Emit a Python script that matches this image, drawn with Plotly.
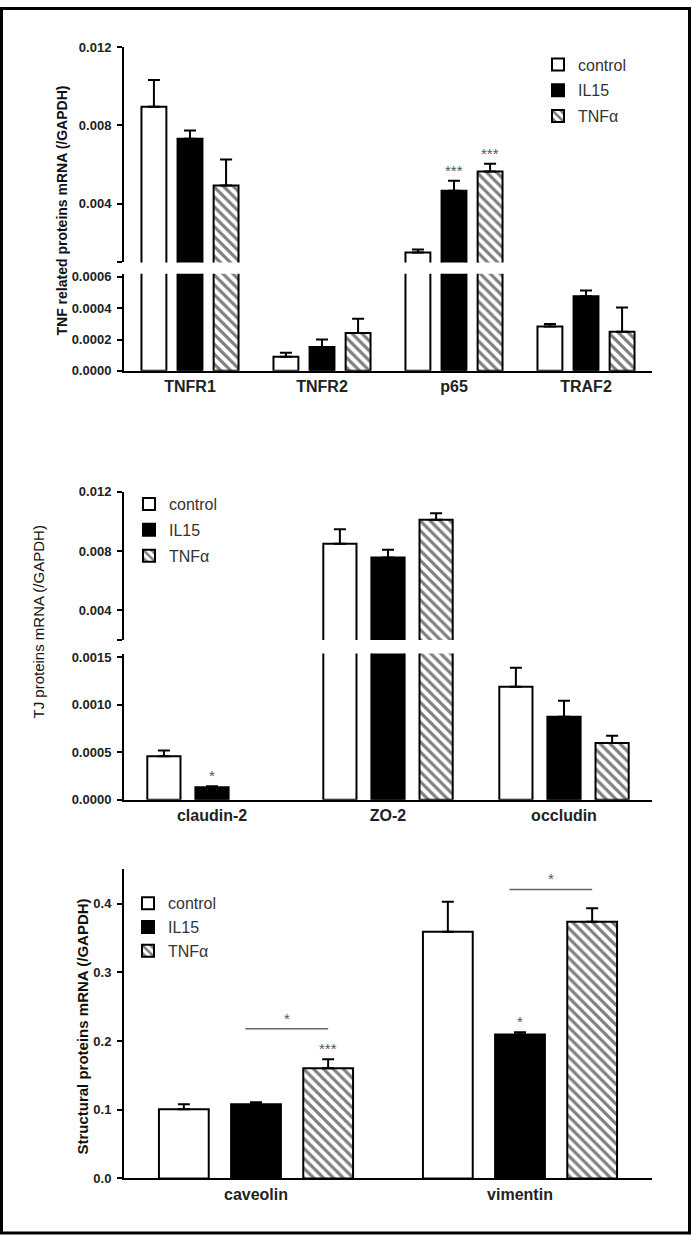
import plotly.graph_objects as go

W, H = 692, 1245
FONT = "Liberation Sans, Arial, Helvetica, sans-serif"

groups = ["control", "IL15", "TNFα"]

# ---------------- Panel 1: TNF related proteins ----------------
tnf_cats = ["TNFR1", "TNFR2", "p65", "TRAF2"]
tnf_control = [0.00895, 0.00009, 0.00151, 0.000284]
tnf_control_err = [0.00137, 0.000025, 0.00015, 0.000015]
tnf_il15 = [0.00732, 0.000153, 0.00466, 0.000477]
tnf_il15_err = [0.00042, 0.000047, 0.00051, 0.000036]
tnf_tnfa = [0.00493, 0.000242, 0.00564, 0.00025]
tnf_tnfa_err = [0.00133, 0.00009, 0.00040, 0.000154]
tnf_low_ticks = [0.0, 0.0002, 0.0004, 0.0006]
tnf_low_ticktext = ["0.0000", "0.0002", "0.0004", "0.0006"]
tnf_high_ticks = [0.001, 0.004, 0.008, 0.012]
tnf_high_ticktext = ["", "0.004", "0.008", "0.012"]
tnf_low_range = [0.0, 0.00062]
tnf_high_range = [0.001, 0.012]
tnf_stars = [("p65", "IL15", "***"), ("p65", "TNFα", "***")]

# ---------------- Panel 2: TJ proteins ----------------
tj_cats = ["claudin-2", "ZO-2", "occludin"]
tj_control = [0.000458, 0.00849, 0.00119]
tj_control_err = [0.00006, 0.00098, 0.0002]
tj_il15 = [0.00013, 0.00756, 0.000875]
tj_il15_err = [0.00001, 0.00053, 0.000167]
tj_tnfa = [None, 0.01011, 0.000597]
tj_tnfa_err = [0.0, 0.00045, 0.000076]
tj_low_ticks = [0.0, 0.0005, 0.0010, 0.0015]
tj_low_ticktext = ["0.0000", "0.0005", "0.0010", "0.0015"]
tj_high_ticks = [0.002, 0.004, 0.008, 0.012]
tj_high_ticktext = ["", "0.004", "0.008", "0.012"]
tj_low_range = [0.0, 0.00154]
tj_high_range = [0.002, 0.012]
tj_stars = [("claudin-2", "IL15", "*")]

# ---------------- Panel 3: Structural proteins ----------------
st_cats = ["caveolin", "vimentin"]
st_control = [0.1007, 0.3593]
st_control_err = [0.0072, 0.0436]
st_il15 = [0.1079, 0.2096]
st_il15_err = [0.0030, 0.0034]
st_tnfa = [0.1603, 0.3737]
st_tnfa_err = [0.0134, 0.0197]
st_ticks = [0.0, 0.1, 0.2, 0.3, 0.4]
st_ticktext = ["0.0", "0.1", "0.2", "0.3", "0.4"]
st_range = [0.0, 0.45]
st_stars = [("caveolin", "TNFα", "***"), ("vimentin", "IL15", "*")]
st_brackets = [("caveolin", 0.218, "*"), ("vimentin", 0.421, "*")]

BARGAP = 0.18
BARGROUPGAP = 0.31

# ---------------- layout helpers (pixel -> paper) ----------------
def px_x(p):
    return p / W


def px_y(p):
    return 1 - p / H


def ydom(top_px, bot_px):
    return [px_y(bot_px), px_y(top_px)]


XDOM = [px_x(124), px_x(652)]

fig = go.Figure()

styles = [
    dict(color="white", line=dict(color="black", width=2)),
    dict(color="black", line=dict(color="black", width=2)),
    dict(color="white", line=dict(color="black", width=2),
         pattern=dict(shape="\\", fgcolor="black", bgcolor="white", size=7, solidity=0.45)),
]


def add_bars(panel, cats, vals, errs, xa, ya, legend, showlegend):
    for gi, g in enumerate(groups):
        fig.add_trace(go.Bar(
            x=cats, y=vals[gi], name=g,
            xaxis=xa, yaxis=ya, legend=legend, showlegend=showlegend,
            legendgroup=f"{panel}-{g}",
            marker=styles[gi],
            error_y=dict(type="data", symmetric=False, array=errs[gi],
                         arrayminus=[0] * len(cats), color="black",
                         thickness=2, width=6),
            hoverinfo="skip",
        ))


tnf_vals = [tnf_control, tnf_il15, tnf_tnfa]
tnf_errs = [tnf_control_err, tnf_il15_err, tnf_tnfa_err]
tj_vals = [tj_control, tj_il15, tj_tnfa]
tj_errs = [tj_control_err, tj_il15_err, tj_tnfa_err]
st_vals = [st_control, st_il15, st_tnfa]
st_errs = [st_control_err, st_il15_err, st_tnfa_err]

add_bars("tnf", tnf_cats, tnf_vals, tnf_errs, "x", "y", "legend", True)
add_bars("tnf", tnf_cats, tnf_vals, tnf_errs, "x2", "y2", "legend", False)
add_bars("tj", tj_cats, tj_vals, tj_errs, "x3", "y3", "legend2", True)
add_bars("tj", tj_cats, tj_vals, tj_errs, "x4", "y4", "legend2", False)
add_bars("st", st_cats, st_vals, st_errs, "x5", "y5", "legend3", True)

tickfont = dict(family=FONT, size=13, color="#222", weight="bold")
catfont = dict(family=FONT, size=16, color="#222", weight="bold")


def yax(domain, rng, tv, tt, anchor):
    return dict(domain=domain, range=rng, tickvals=tv, ticktext=tt, anchor=anchor,
                showline=True, linecolor="black", linewidth=2, ticks="outside",
                ticklen=5, tickwidth=2, tickcolor="black", showgrid=False,
                zeroline=False, tickfont=tickfont, ticklabelstandoff=3, fixedrange=True)


def xax_main(anchor):
    return dict(domain=XDOM, anchor=anchor, showline=True, linecolor="black",
                linewidth=2, ticks="", showgrid=False, zeroline=False,
                tickfont=catfont, fixedrange=True)


def xax_hidden(anchor, match):
    return dict(domain=XDOM, anchor=anchor, matches=match, visible=False,
                showgrid=False, zeroline=False, fixedrange=True)


legfont = dict(family=FONT, size=16, color="#333")

fig.update_layout(
    width=W, height=H, autosize=False,
    margin=dict(l=0, r=0, t=0, b=0),
    paper_bgcolor="white", plot_bgcolor="rgba(0,0,0,0)",
    barmode="group", bargap=BARGAP, bargroupgap=BARGROUPGAP,
    font=dict(family=FONT, color="#222"),
    xaxis=xax_main("y"),
    yaxis=yax(ydom(270, 368.3), tnf_low_range, tnf_low_ticks, tnf_low_ticktext, "x"),
    xaxis2=xax_hidden("y2", "x"),
    yaxis2=yax(ydom(40.7, 258.5), tnf_high_range, tnf_high_ticks, tnf_high_ticktext, "x2"),
    xaxis3=xax_main("y3"),
    yaxis3=yax(ydom(654.5, 802.3), tj_low_range, tj_low_ticks, tj_low_ticktext, "x3"),
    xaxis4=xax_hidden("y4", "x3"),
    yaxis4=yax(ydom(490.7, 640.7), tj_high_range, tj_high_ticks, tj_high_ticktext, "x4"),
    xaxis5=xax_main("y5"),
    yaxis5=yax(ydom(873, 1185.7), st_range, st_ticks, st_ticktext, "x5"),
    legend=dict(x=px_x(538), y=px_y(41), xanchor="left", yanchor="top",
                font=legfont, bgcolor="rgba(0,0,0,0)", tracegroupgap=2),
    legend2=dict(x=px_x(129), y=px_y(486), xanchor="left", yanchor="top",
                 font=legfont, bgcolor="rgba(0,0,0,0)", tracegroupgap=2),
    legend3=dict(x=px_x(128), y=px_y(890), xanchor="left", yanchor="top",
                 font=legfont, bgcolor="rgba(0,0,0,0)", tracegroupgap=0),
    showlegend=True,
)

slot = (1 - BARGAP) / len(groups)


def xpos(cats, cat, grp):
    return cats.index(cat) + (groups.index(grp) - 1) * slot


annotations = []
shapes = []
starfont = dict(family=FONT, size=15, color="#555")


def add_stars(cats, vals, errs, stars, xa, ya):
    for cat, grp, txt in stars:
        ci, gi = cats.index(cat), groups.index(grp)
        annotations.append(dict(
            x=xpos(cats, cat, grp), y=vals[gi][ci] + errs[gi][ci], xref=xa, yref=ya,
            text=txt, showarrow=False, xanchor="center", yanchor="bottom", yshift=0,
            font=starfont))


add_stars(tnf_cats, tnf_vals, tnf_errs, tnf_stars, "x2", "y2")
add_stars(tj_cats, tj_vals, tj_errs, tj_stars, "x3", "y3")
add_stars(st_cats, st_vals, st_errs, st_stars, "x5", "y5")

for cat, level, txt in st_brackets:
    x0 = xpos(st_cats, cat, "IL15") - 0.04
    x1 = xpos(st_cats, cat, "TNFα")
    shapes.append(dict(type="line", xref="x5", yref="y5", x0=x0, x1=x1,
                       y0=level, y1=level, line=dict(color="#666", width=1.5)))
    annotations.append(dict(x=(x0 + x1) / 2, y=level, xref="x5", yref="y5",
                            text=txt, showarrow=False, xanchor="center",
                            yanchor="bottom", yshift=0, font=starfont))

# Y axis titles
annotations += [
    dict(x=px_x(62), y=px_y(206), xref="paper", yref="paper", textangle=-90,
         xanchor="center", yanchor="middle",
         text="TNF related proteins mRNA (/GAPDH)", showarrow=False,
         font=dict(family=FONT, size=14, color="#111", weight="bold")),
    dict(x=px_x(38), y=px_y(623), xref="paper", yref="paper", textangle=-90,
         xanchor="center", yanchor="middle",
         text="TJ proteins mRNA (/GAPDH)", showarrow=False,
         font=dict(family=FONT, size=15, color="#111")),
    dict(x=px_x(83), y=px_y(1032), xref="paper", yref="paper", textangle=-90,
         xanchor="center", yanchor="middle",
         text="Structural proteins mRNA (/GAPDH)", showarrow=False,
         font=dict(family=FONT, size=15, color="#111", weight="bold")),
]

# outer frame
shapes.append(dict(type="rect", xref="paper", yref="paper",
                   x0=px_x(1.5), x1=px_x(689.5), y0=px_y(1241), y1=px_y(1.5),
                   line=dict(color="black", width=3)))

fig.update_layout(annotations=annotations, shapes=shapes)

fig.write_html("out.html", config={"displayModeBar": False},
               post_script="document.body.style.margin='0';document.body.style.overflow='hidden';")
